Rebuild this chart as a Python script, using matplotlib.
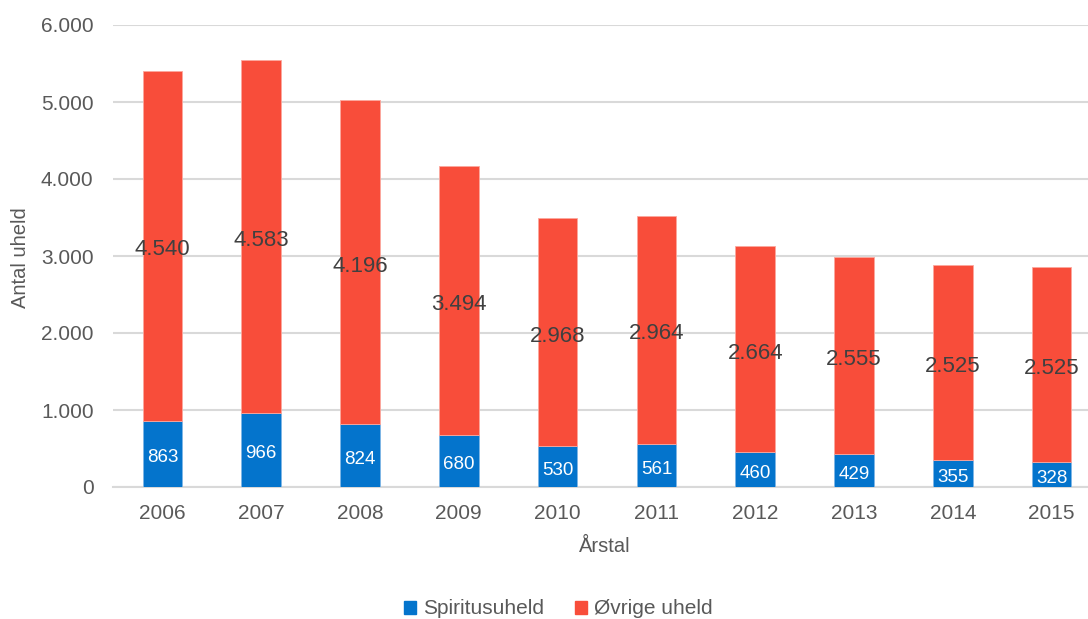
import matplotlib
matplotlib.use("Agg")
import matplotlib.pyplot as plt
from matplotlib.ticker import FuncFormatter
from matplotlib.patches import Patch
from matplotlib.transforms import offset_copy

plt.rcParams['font.family'] = ['Liberation Sans', 'DejaVu Sans']

years = ["2006", "2007", "2008", "2009", "2010", "2011", "2012", "2013", "2014", "2015"]
spiritus = [863, 966, 824, 680, 530, 561, 460, 429, 355, 328]
ovrige = [4540, 4583, 4196, 3494, 2968, 2964, 2664, 2555, 2525, 2525]

BLUE = "#0474CC"
RED = "#F84D3A"
GRID = "#D9D9D9"
TEXT = "#595959"


def dk(v):
    return f"{int(v):,}".replace(",", ".")


fig = plt.figure(figsize=(10.88, 6.19), dpi=100)
ax = fig.add_axes([113 / 1088, 1 - 487 / 619, 1 - 113 / 1088, (487 - 25) / 619])

x = list(range(len(years)))
ax.bar(x, spiritus, width=0.4, color=BLUE, edgecolor="#7fb6e6", linewidth=0.6, zorder=3)
ax.bar(x, ovrige, width=0.4, bottom=spiritus, color=RED, edgecolor="#fca89e",
       linewidth=0.6, zorder=3)

# data labels sit a touch below the segment centre
lbl_tr = offset_copy(ax.transData, fig=fig, x=0, y=-3, units="points")
for xi, s, o in zip(x, spiritus, ovrige):
    ax.text(xi, s / 2, dk(s), ha="center", va="center", color="white", fontsize=13.5,
            zorder=4, transform=lbl_tr)
    ax.text(xi, s + o / 2, dk(o), ha="center", va="center", color="#404040", fontsize=16,
            zorder=4, transform=lbl_tr)

ax.set_xlim(-0.5, -0.5 + (1088 - 113) / 98.8)
ax.set_ylim(0, 6000)
ax.set_yticks(range(0, 6001, 1000))
ax.yaxis.set_major_formatter(FuncFormatter(lambda v, p: dk(v)))
ax.set_xticks(x)
ax.set_xticklabels(years)

ax.grid(axis="y", color=GRID, linewidth=1.5, zorder=0)
for side in ("left", "right", "top"):
    ax.spines[side].set_visible(False)
ax.spines["bottom"].set_color(GRID)
ax.spines["bottom"].set_linewidth(1.5)
ax.tick_params(axis="both", length=0, labelsize=15, labelcolor=TEXT)
ax.tick_params(axis="y", pad=14)
ax.tick_params(axis="x", pad=12)

fig.text(21 / 1088, 1 - 258 / 619, "Antal uheld", rotation=90, ha="center", va="center",
         fontsize=14.5, color=TEXT)
fig.text(605 / 1088, 1 - 547 / 619, "Årstal", ha="center", va="center", fontsize=14.5, color=TEXT)

handles = [Patch(color=BLUE, label="Spiritusuheld"), Patch(color=RED, label="Øvrige uheld")]
fig.legend(handles=handles, loc="center", bbox_to_anchor=(0.513, 1 - 609 / 619), ncol=2,
           frameon=False, fontsize=15, handlelength=0.6, handleheight=0.6,
           handletextpad=0.3, columnspacing=1.5, labelcolor=TEXT)

fig.savefig("out.png", dpi=100)
